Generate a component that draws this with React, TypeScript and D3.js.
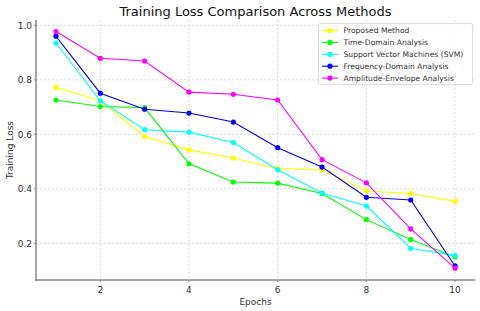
import React from "react";
import * as d3 from "d3";

const epochs = [1, 2, 3, 4, 5, 6, 7, 8, 9, 10];
const seriesNames = [
  "Proposed Method",
  "Time-Domain Analysis",
  "Support Vector Machines (SVM)",
  "Frequency-Domain Analysis",
  "Amplitude-Envelope Analysis",
];
const seriesColors = ["#ffff00", "#00ff00", "#00ffff", "#0000ff", "#ff00ff"];
const proposed = [0.772, 0.723, 0.592, 0.543, 0.513, 0.474, 0.47, 0.392, 0.383, 0.354];
const timeDomain = [0.726, 0.702, 0.698, 0.492, 0.425, 0.421, 0.383, 0.287, 0.214, 0.15];
const svm = [0.935, 0.723, 0.617, 0.608, 0.57, 0.47, 0.385, 0.337, 0.182, 0.155];
const freqDomain = [0.96, 0.751, 0.692, 0.678, 0.645, 0.551, 0.48, 0.369, 0.359, 0.117];
const amplitude = [0.977, 0.879, 0.869, 0.755, 0.747, 0.726, 0.507, 0.422, 0.253, 0.109];
const allSeries = [proposed, timeDomain, svm, freqDomain, amplitude];
const xTicks = [2, 4, 6, 8, 10];
const yTicks = [0.2, 0.4, 0.6, 0.8, 1.0];

const W = 480;
const H = 311;
const left = 36;
const right = 475;
const top = 20;
const bottom = 280;
const font = "DejaVu Sans, sans-serif";

export default function App() {
  const x = d3.scaleLinear().domain([0.55, 10.45]).range([left, right]);
  const y = d3.scaleLinear().domain([0.0655, 1.0195]).range([bottom, top]);
  const line = d3
    .line<number>()
    .x((_, i) => x(epochs[i]))
    .y((d) => y(d));

  return (
    <svg
      width={W}
      height={H}
      style={{ position: "absolute", left: 0, top: 0, background: "#fff" }}
      fontFamily={font}
    >
      <rect width={W} height={H} fill="#fff" />
      {xTicks.map((t) => (
        <line key={"gx" + t} x1={x(t)} x2={x(t)} y1={top} y2={bottom} stroke="#d0d0d0" strokeWidth={0.8} strokeDasharray="2,2" />
      ))}
      {yTicks.map((t) => (
        <line key={"gy" + t} x1={left} x2={right} y1={y(t)} y2={y(t)} stroke="#d0d0d0" strokeWidth={0.8} strokeDasharray="2,2" />
      ))}
      {allSeries.map((s, k) => (
        <g key={"s" + k}>
          <path d={line(s) || ""} fill="none" stroke={seriesColors[k]} strokeWidth={1.1} />
          {s.map((v, i) => (
            <circle key={i} cx={x(epochs[i])} cy={y(v)} r={2.6} fill={seriesColors[k]} />
          ))}
        </g>
      ))}
      <line x1={left} x2={left} y1={top} y2={bottom + 0.75} stroke="#888" strokeWidth={1.5} />
      <line x1={left - 0.75} x2={right} y1={bottom} y2={bottom} stroke="#888" strokeWidth={1.5} />
      {xTicks.map((t) => (
        <g key={"tx" + t}>
          <line x1={x(t)} x2={x(t)} y1={bottom} y2={bottom + 2} stroke="#888" />
          <text x={x(t)} y={bottom + 13} textAnchor="middle" fontSize={9} fill="#333">
            {t}
          </text>
        </g>
      ))}
      {yTicks.map((t) => (
        <g key={"ty" + t}>
          <line x1={left - 2} x2={left} y1={y(t)} y2={y(t)} stroke="#888" />
          <text x={left - 4} y={y(t) + 3.2} textAnchor="end" fontSize={9} fill="#333">
            {t.toFixed(1)}
          </text>
        </g>
      ))}
      <text x={(left + right) / 2} y={305} textAnchor="middle" fontSize={9} fill="#333">
        Epochs
      </text>
      <text
        transform={`translate(13,${(top + bottom) / 2}) rotate(-90)`}
        textAnchor="middle"
        fontSize={9}
        fill="#333"
      >
        Training Loss
      </text>
      <text x={(left + right) / 2} y={16} textAnchor="middle" fontSize={13} fill="#111">
        Training Loss Comparison Across Methods
      </text>
      <g>
        <rect x={318.5} y={23.5} width={154} height={61} rx={2} fill="#fff" fillOpacity={0.85} stroke="#d6d6d6" strokeWidth={0.8} />
        {seriesNames.map((n, k) => {
          const yy = 30.5 + k * 11.9;
          return (
            <g key={"l" + k}>
              <line x1={322} x2={338} y1={yy} y2={yy} stroke={seriesColors[k]} strokeWidth={1.1} />
              <circle cx={330} cy={yy} r={2.6} fill={seriesColors[k]} />
              <text x={343.5} y={yy + 2.8} fontSize={7.6} fill="#333">
                {n}
              </text>
            </g>
          );
        })}
      </g>
    </svg>
  );
}
